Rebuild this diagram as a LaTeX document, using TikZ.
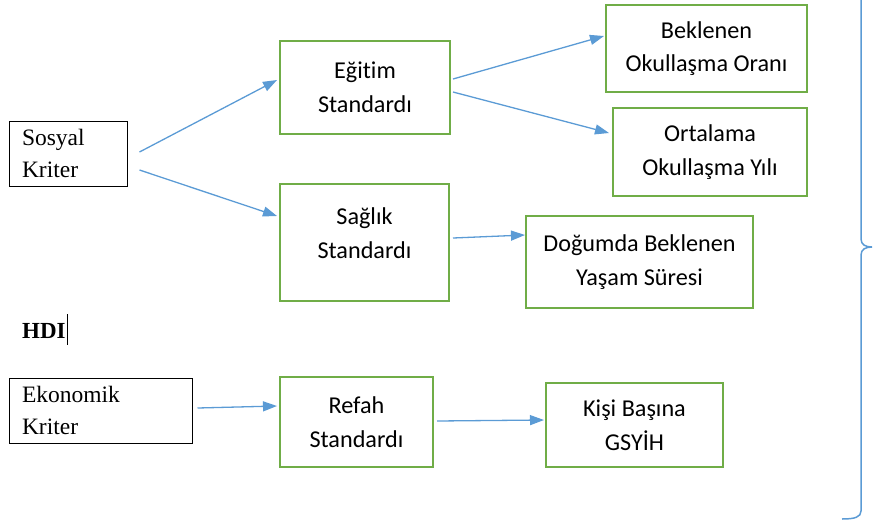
\documentclass[tikz,border=0pt]{standalone}
\usepackage{fontspec}
\newfontfamily\calib[Ligatures=NoCommon]{Carlito}
\newfontfamily\serifb{Liberation Serif}
\usetikzlibrary{arrows.meta,calc}
\definecolor{gr}{HTML}{70AD47}
\definecolor{bl}{HTML}{5B9BD5}
\begin{document}
\begin{tikzpicture}[x=1pt,y=-1pt,
  gbox/.style={draw=gr, line width=2pt, align=center, inner sep=0pt,
    font=\calib\fontsize{24.2}{33.5}\selectfont},
  gtext/.style={align=center, inner sep=0pt, font=\calib\fontsize{24.2}{33.5}\selectfont},
  kbox/.style={draw=black, line width=1pt, align=left, inner xsep=13pt, inner ysep=0pt,
    font=\serifb\fontsize{23.5}{32}\selectfont},
  arr/.style={draw=bl, line width=1.3pt, -{Triangle[length=14pt,width=10pt]}},
  brace/.style={draw=bl, line width=1.5pt},
  cursor/.style={draw=black, line width=1.2pt}]
\useasboundingbox (0,0) rectangle (873,531);

% left criteria
\node[kbox, text width=92pt, minimum height=65pt] (sosyal) at (68,153.5) {Sosyal\\Kriter};
\node[kbox, text width=157pt, minimum height=65pt] (ekonomik) at (100.5,410.5) {Ekonomik\\Kriter};
\node[inner sep=0pt, anchor=west, font=\serifb\bfseries\fontsize{23}{26}\selectfont] (hdi) at (22,331) {HDI};
\draw[cursor] ($(hdi.east)+(2,-17)$) -- ($(hdi.east)+(2,14)$);

% standards
\node[gbox, minimum width=170pt, minimum height=93pt] (egitim) at (365,87.5) {Eğitim\\Standardı};
\node[gbox, minimum width=169pt, minimum height=117pt] (saglik) at (364.5,242.5) {};
\node[gtext] (saglikT) at (364.5,233) {Sağlık\\Standardı};
\node[gbox, minimum width=153pt, minimum height=90pt] (refah) at (356.5,422) {Refah\\Standardı};

% indicators
\node[gbox, minimum width=201pt, minimum height=87pt] (beklenen) at (706.5,48.5) {Beklenen\\Okullaşma Oranı};
\node[gbox, minimum width=194pt, minimum height=88pt] (ortalama) at (710,152) {Ortalama\\Okullaşma Yılı};
\node[gbox, minimum width=227pt, minimum height=92pt] (dogum) at (639.5,262) {Doğumda Beklenen\\Yaşam Süresi};
\node[gbox, minimum width=177pt, minimum height=84pt] (kisi) at (634.5,425) {Kişi Başına\\GSYİH};

% arrows
\draw[arr] ($(sosyal.east)+(12,-1.5)$) -- ($(egitim.west)+(-2,-7.5)$);
\draw[arr] ($(sosyal.east)+(12,16.5)$) -- ($(saglik.west)+(-2,-26.5)$);
\draw[arr] ($(egitim.east)+(2,-8.5)$) -- ($(beklenen.west)+(-1,-12.5)$);
\draw[arr] ($(egitim.east)+(2,4.5)$) -- ($(ortalama.west)+(-3,-19)$);
\draw[arr] ($(saglik.east)+(3,-4.5)$) -- ($(dogum.west)+(0,-27)$);
\draw[arr] ($(ekonomik.east)+(5,-2.5)$) -- ($(refah.west)+(-2,-16)$);
\draw[arr] ($(refah.east)+(3,-1)$) -- ($(kisi.west)+(-1,-5)$);

% right brace
\draw[brace] (861,-5) -- (861,239)
  .. controls (861,245) and (866,247) .. (872,247)
  .. controls (866,247) and (861,249) .. (861,255)
  -- (861,511)
  .. controls (861,517) and (855,519) .. (842,519);
\end{tikzpicture}
\end{document}
